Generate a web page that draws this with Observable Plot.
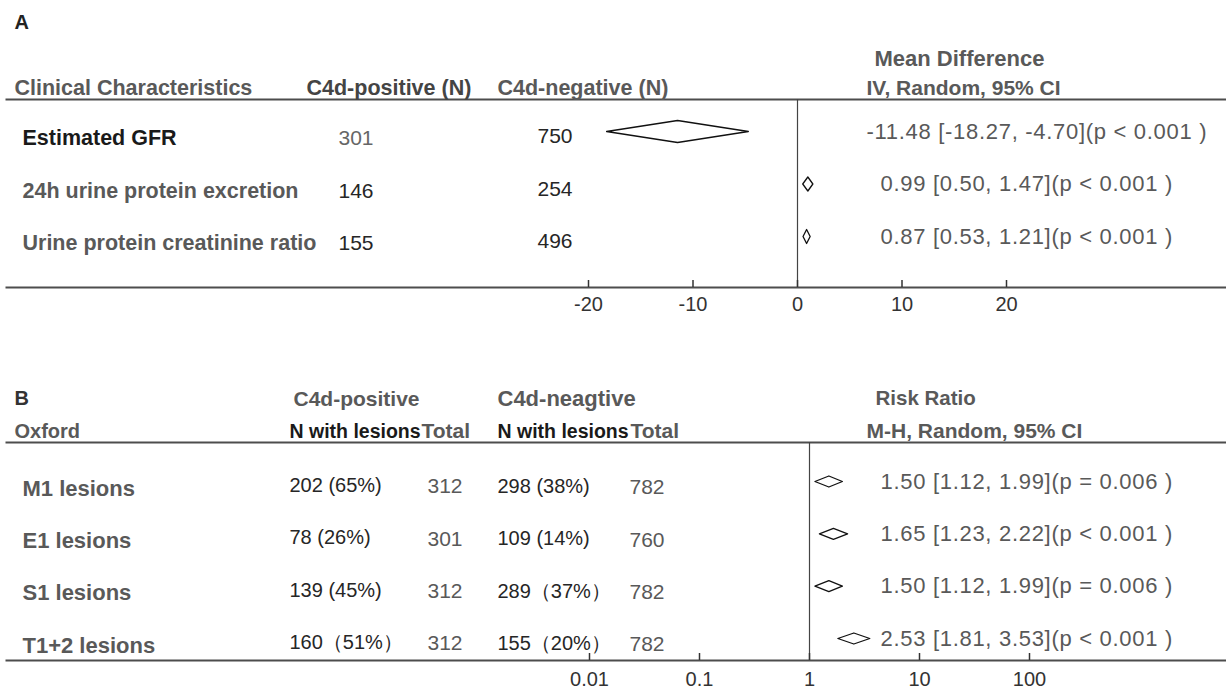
<!DOCTYPE html>
<html><head><meta charset="utf-8">
<script src="https://cdn.jsdelivr.net/npm/d3@7"></script>
<script src="https://cdn.jsdelivr.net/npm/@observablehq/plot@0.6"></script>
<style>
body{margin:0;background:#fff;}
#chart svg{display:block;}
</style></head><body><div id="chart"></div>
<script>
// ---------- Panel A data ----------
const rowsA = ["Estimated GFR", "24h urine protein excretion", "Urine protein creatinine ratio"];
const posA = [301, 146, 155];
const negA = [750, 254, 496];
const mdA = [-11.48, 0.99, 0.87];
const loA = [-18.27, 0.50, 0.53];
const hiA = [-4.70, 1.47, 1.21];
const pA = ["p < 0.001", "p < 0.001", "p < 0.001"];
const ticksA = [-20, -10, 0, 10, 20];

// ---------- Panel B data ----------
const rowsB = ["M1 lesions", "E1 lesions", "S1 lesions", "T1+2 lesions"];
const posNB = ["202 (65%)", "78 (26%)", "139 (45%)", "160（51%）"];
const posTotB = [312, 301, 312, 312];
const negNB = ["298 (38%)", "109 (14%)", "289（37%）", "155（20%）"];
const negTotB = [782, 760, 782, 782];
const rrB = [1.50, 1.65, 1.50, 2.53];
const loB = [1.12, 1.23, 1.12, 1.81];
const hiB = [1.99, 2.22, 1.99, 3.53];
const pB = ["p = 0.006", "p < 0.001", "p = 0.006", "p < 0.001"];
const ticksB = [0.01, 0.1, 1, 10, 100];

// ---------- styling ----------
const W = 1226;
const FONT = '"Liberation Sans", Arial, Helvetica, sans-serif';
const GRAY = "#595959", DARK = "#262626", BLACK = "#1a1a1a";
const f2 = v => v.toFixed(2);

function diamonds(lo, est, hi, halfPx, rowGap) {
  const out = [];
  lo.forEach((_, i) => {
    const h = (Array.isArray(halfPx) ? halfPx[i] : halfPx) / rowGap;
    out.push({i, x: lo[i], y: i}, {i, x: est[i], y: i - h}, {i, x: hi[i], y: i}, {i, x: est[i], y: i + h});
  });
  return out;
}

function panel(cfg) {
  const {H, mT, mB, mL, rowTop, rowBot, n, xScale, ticks, tickPad, header, cols, diamondData, rightText, rightX} = cfg;
  const idx = d3.range(n);
  const hdr = (txt, x, yPx, o = {}) => Plot.text([txt], {
    text: d => d, frameAnchor: "top-left", dx: x - mL, dy: yPx - mT,
    textAnchor: "start", lineAnchor: "middle", fontSize: 21, fontWeight: "bold", fill: GRAY, ...o
  });
  const col = (textFn, x, dy, o = {}) => Plot.text(idx, {
    y: d => d, text: textFn, frameAnchor: "left", dx: x - mL, dy,
    textAnchor: "start", lineAnchor: "middle", fontSize: 21, fill: DARK, ...o
  });
  const svg = Plot.plot({
    width: W, height: H, marginTop: mT, marginBottom: mB, marginLeft: mL, marginRight: 0,
    style: {fontFamily: FONT, fontSize: "20px", background: "#fff"},
    x: xScale,
    y: {domain: [0, n - 1], range: [rowTop, rowBot], axis: null},
    marks: [
      Plot.frame({anchor: "top", stroke: "#4d4d4d", strokeWidth: 2}),
      Plot.frame({anchor: "bottom", stroke: "#4d4d4d", strokeWidth: 2}),
      Plot.ruleX([xScale.type === "log" ? 1 : 0], {stroke: "#444", strokeWidth: 1.2}),
      Plot.ruleX(ticks, {stroke: "#333", strokeWidth: 1.5, insetTop: (H - mT - mB) - 7}),
      Plot.axisX({ticks, tickSize: 0, tickPadding: tickPad, tickFormat: d => String(d), label: null, fill: "#333", fontSize: 20}),
      ...header.map(h => hdr(...h)),
      ...cols.map(c => col(...c)),
      Plot.line(diamondData, {x: "x", y: "y", z: "i", curve: "linear-closed", stroke: "#111", strokeWidth: 1.3, fill: "white"}),
      ...rightX.map(([x, filt]) => Plot.text(idx.filter(filt), {
        y: d => d, text: rightText, frameAnchor: "left", dx: x - mL,
        textAnchor: "start", lineAnchor: "middle", fontSize: 22, fill: GRAY
      }))
    ]
  });
  // the reference's estimate/CI column is set a little more loosely
  d3.select(svg).selectAll("text")
    .filter(function () { return this.textContent.includes("]("); })
    .style("letter-spacing", "0.7px");
  return svg;
}

// Panel A
const mTA = 99, HA = 345;
const svgA = panel({
  H: HA, mT: mTA, mB: HA - 287, mL: 6, rowTop: 131, rowBot: 236, n: rowsA.length,
  xScale: {domain: [-20, 20], range: [588, 1006]},
  ticks: ticksA, tickPad: 9,
  header: [
    ["A", 14, 22, {fill: "#222", fontSize: 20}],
    ["Mean Difference", 874, 58, {fontSize: 22}],
    ["Clinical Characteristics", 14, 88, {fontSize: 21.5}],
    ["C4d-positive (N)", 306, 88, {fill: "#444", fontSize: 21.5}],
    ["C4d-negative (N)", 497, 88, {fontSize: 21.5}],
    ["IV, Random, 95% CI", 866, 88]
  ],
  cols: [
    [d => rowsA[d], 22, 7, {fontWeight: "bold", fontSize: 21.5, fill: d => d === 0 ? BLACK : GRAY}],
    [d => posA[d], 338, 7, {fill: d => d === 0 ? "#666" : DARK}],
    [d => negA[d], 537, 5]
  ],
  diamondData: diamonds(loA, mdA, hiA, [11, 7, 7], (236 - 131) / 2),
  rightText: d => `${f2(mdA[d])} [${f2(loA[d])}, ${f2(hiA[d])}](${pA[d]} )`,
  rightX: [[866, d => d === 0], [880, d => d !== 0]]
});

// Panel B
const offB = 345, HB = 345, mTB = 442 - offB;
const svgB = panel({
  H: HB, mT: mTB, mB: HB - (660 - offB), mL: 6, rowTop: 481 - offB, rowBot: 638 - offB, n: rowsB.length,
  xScale: {type: "log", domain: [0.01, 100], range: [589, 1029]},
  ticks: ticksB, tickPad: 11,
  header: [
    ["B", 14, 398 - offB, {fill: "#333", fontSize: 20}],
    ["C4d-positive", 293, 399 - offB],
    ["C4d-neagtive", 497, 398 - offB, {fontSize: 22}],
    ["Risk Ratio", 875, 398 - offB, {fontSize: 20.5}],
    ["Oxford", 14, 431 - offB, {fontSize: 20}],
    ["N with lesions", 289, 431 - offB, {fill: BLACK, fontSize: 19.5}],
    ["Total", 421, 431 - offB],
    ["N with lesions", 497, 431 - offB, {fill: BLACK, fontSize: 19.5}],
    ["Total", 630, 431 - offB],
    ["M-H, Random, 95% CI", 866, 431 - offB]
  ],
  cols: [
    [d => rowsB[d], 22, 7, {fontWeight: "bold", fontSize: 22, fill: GRAY}],
    [d => posNB[d], 289, 4, {fontSize: 20}],
    [d => posTotB[d], 427, 5, {fill: GRAY}],
    [d => negNB[d], 497, 5, {fontSize: 20}],
    [d => negTotB[d], 629, 6, {fill: GRAY}]
  ],
  diamondData: diamonds(loB, rrB, hiB, 5.5, (638 - 481) / 3),
  rightText: d => `${f2(rrB[d])} [${f2(loB[d])}, ${f2(hiB[d])}](${pB[d]} )`,
  rightX: [[880, d => true]]
});

document.getElementById("chart").append(svgA, svgB);
</script></body></html>
